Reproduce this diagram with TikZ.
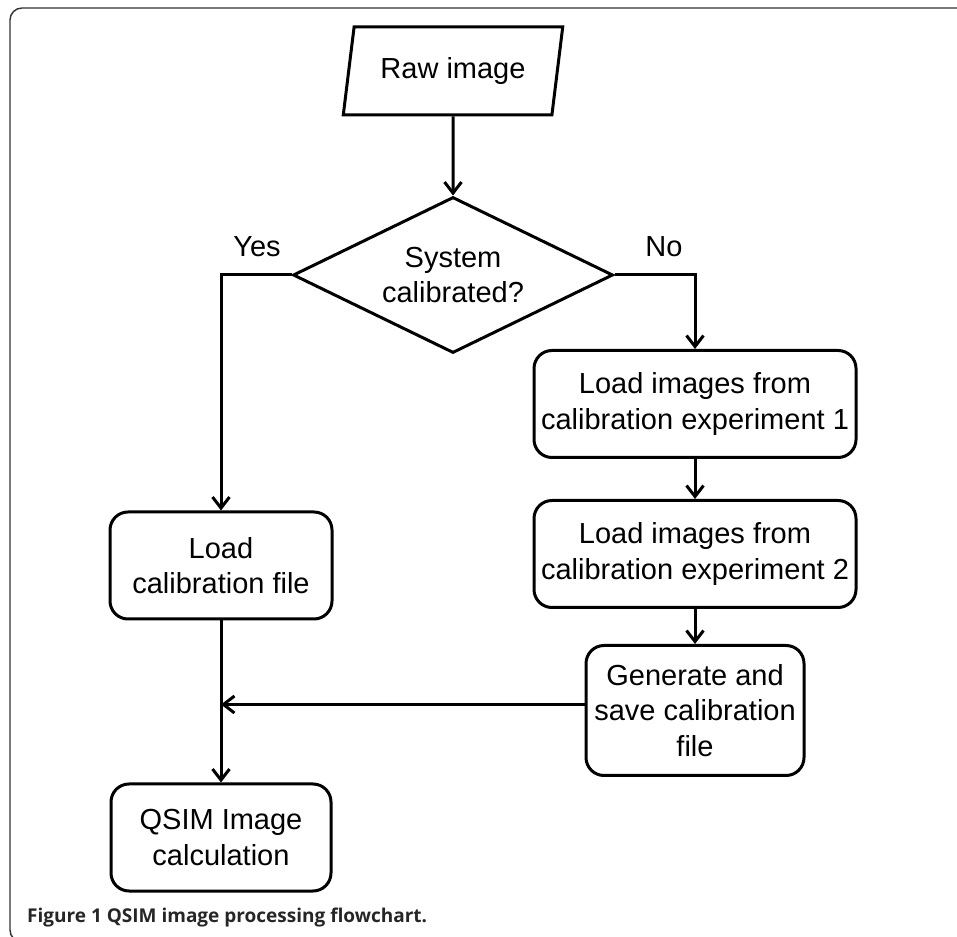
\documentclass[tikz,border=0pt]{standalone}
\usepackage{fontspec}
\setmainfont{Liberation Sans}
\newfontfamily\capfont{Open Sans}
\usetikzlibrary{arrows.meta,positioning,shapes.geometric}

\begin{document}
\begin{tikzpicture}[x=1pt, y=1pt,
  node distance=40pt,
  every node/.style={font=\fontsize{29}{35.5}\selectfont},
  io/.style={trapezium, trapezium left angle=75, trapezium right angle=105, trapezium stretches=true, draw, line width=3pt, minimum width=220pt, minimum height=88pt, inner xsep=10pt},
  dec/.style={diamond, aspect=2, draw, line width=3pt, align=center, minimum width=320pt, minimum height=156pt, inner sep=0pt},
  proc/.style={rectangle, rounded corners=18pt, draw, line width=3pt, align=center, minimum height=107pt},
  lbl/.style={inner sep=0pt, anchor=base},
  arr/.style={-{Straight Barb[length=11pt, width=17pt]}, line width=3pt},
  frame/.style={draw=black!80, line width=1.4pt, rounded corners=12pt}
]
\useasboundingbox (0,0) rectangle (957,936);

\node[io] (raw) at (453,865) {Raw image};
\node[dec, below=79pt of raw] (calib) {System\\calibrated?};
\node[lbl] (yes) at (257,679) {Yes};
\node[lbl] (no) at (664,679) {No};

\node[proc, minimum width=222pt] (loadcal) at (221,370.5) {Load\\calibration file};
\node[proc, minimum width=220pt, below=162pt of loadcal] (qsim) {QSIM Image\\calculation};

\node[proc, minimum width=322pt] (exp1) at (695,532) {Load images from\\calibration experiment 1};
\node[proc, minimum width=322pt, below=of exp1] (exp2) {Load images from\\calibration experiment 2};
\node[proc, minimum width=218pt, minimum height=130pt, inner xsep=6pt, below=35pt of exp2] (gen) {Generate and\\save calibration\\file};

\draw[arr] (raw) -- (calib);
\draw[arr] (calib.west) -| (loadcal.north);
\draw[arr] (calib.east) -| (exp1.north);
\draw[arr] (exp1) -- (exp2);
\draw[arr] (exp2) -- (gen);
\draw[arr] (loadcal) -- (qsim);
\draw[arr] ([yshift=6pt]gen.west) -- ([yshift=6pt]gen.west -| loadcal.south);

% outer frame and caption
\draw[frame] (957,928) -- (10,928) -- (10,-6) -- (957,-6);
\node[anchor=base west, inner sep=0pt, text=black!85, font=\capfont\bfseries\fontsize{19}{22}\selectfont] (cap) at (27,14) {Figure 1 QSIM image processing flowchart.};
\end{tikzpicture}
\end{document}
